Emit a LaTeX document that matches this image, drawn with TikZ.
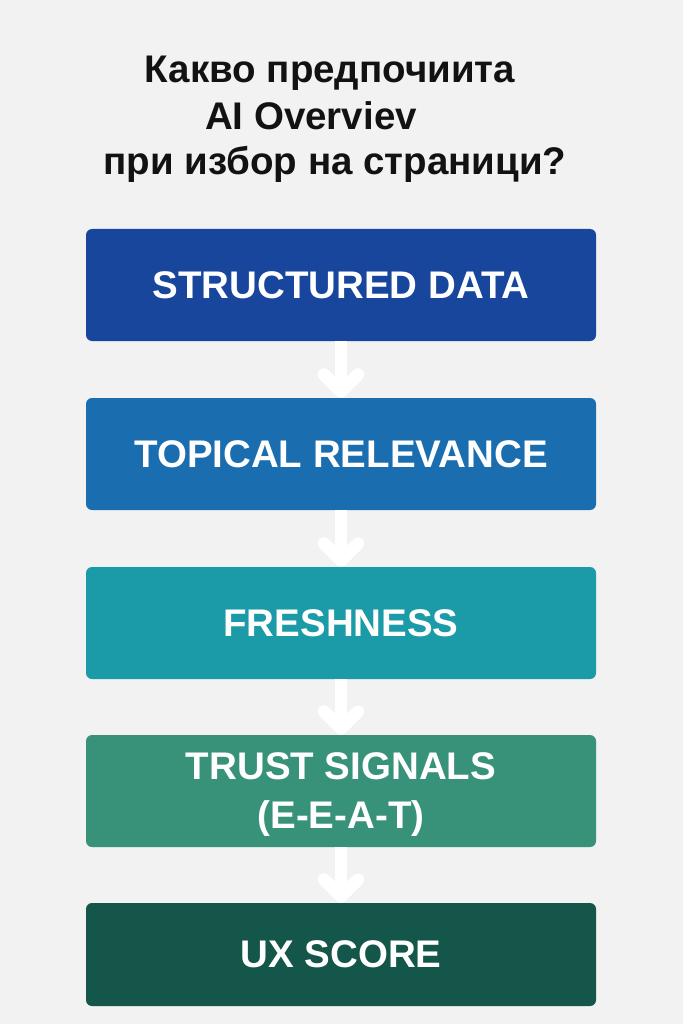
\documentclass[tikz,border=0pt]{standalone}
\usepackage{fontspec}
\setmainfont{Liberation Sans}
\usetikzlibrary{positioning,arrows.meta}
\definecolor{bgcol}{HTML}{F2F2F2}
\definecolor{col1}{HTML}{17469C}
\definecolor{col2}{HTML}{1A6EB0}
\definecolor{col3}{HTML}{1B9AA7}
\definecolor{col4}{HTML}{389279}
\definecolor{col5}{HTML}{14564A}
\tikzset{block/.style={rounded corners=6pt,text=white,minimum width=510pt,minimum height=112pt,align=center,
           font=\fontsize{38.5}{49}\selectfont\bfseries},
         line/.style={white,line width=12.5pt,-{Straight Barb[length=17pt,width=34pt,round]}},
         title/.style={anchor=base,text=black!93,font=\fontsize{38.5}{46}\selectfont\bfseries}
}

\begin{document}
\begin{tikzpicture}[x=1pt,y=-1pt]
  \fill[bgcol] (0,0) rectangle (683,1024);
  \useasboundingbox (0,0) rectangle (683,1024);
  % title
  \node[title] (t1) at (330,83) {Какво предпочиита};
  \node[title] (t2) at (311,130) {AI Overviev};
  \node[title] (t3) at (335,175) {при избор на страници?};
  % steps
  \node[block, fill=col1] (a) at (341,285) {STRUCTURED DATA};
  \node[block, fill=col2] (b) at (341,454) {TOPICAL RELEVANCE};
  \node[block, fill=col3] (c) at (341,623) {FRESHNESS};
  \node[block, fill=col4, text depth=0pt] (d) at (341,791) {TRUST SIGNALS\\(E-E-A-T)};
  \node[block, fill=col5, minimum height=103pt] (e) at (341,954.5) {UX SCORE};
  \draw[line] (a) -- (b);
  \draw[line] (b) -- (c);
  \draw[line] (c) -- (d);
  \draw[line] (d) -- (e);
\end{tikzpicture}
\end{document}
